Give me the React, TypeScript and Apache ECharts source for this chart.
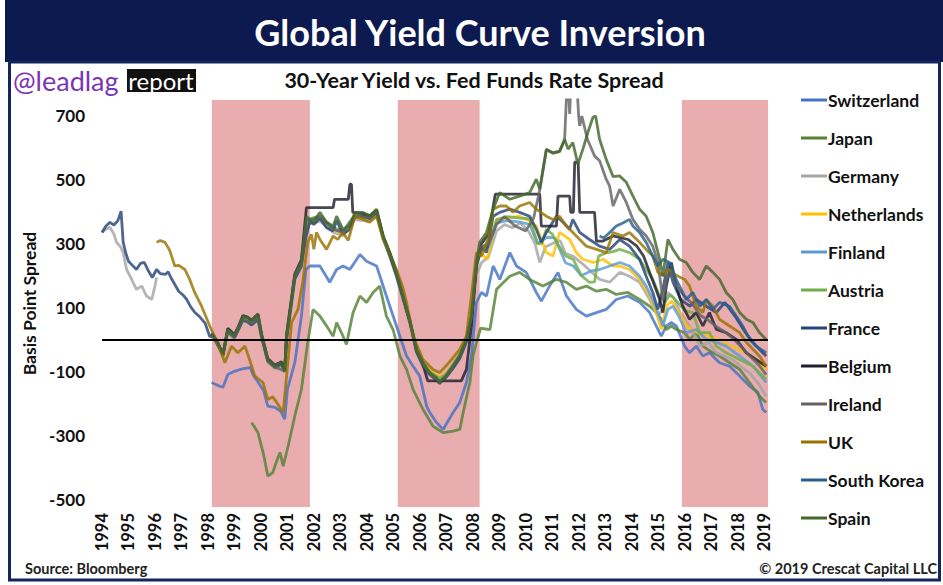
import React, { useEffect, useRef } from "react";
import * as echarts from "echarts";

type Pt = [number, number | null];

const COUNTRIES = [
  "Switzerland", "Japan", "Germany", "Netherlands", "Finland", "Austria",
  "France", "Belgium", "Ireland", "UK", "South Korea", "Spain",
];

const COLORS = [
  "#4472C4", "#548235", "#A5A5A5", "#FFC000", "#5B9BD5", "#70AD47",
  "#264478", "#1F1F2E", "#636363", "#997300", "#255E91", "#43682B",
];

const Y_TICKS = [-500, -300, -100, 100, 300, 500, 700];
const RECESSION_BANDS: [number, number][] = [
  [1998.15, 2001.85],
  [2005.17, 2008.26],
  [2015.9, 2019.15],
];

const switzerland: Pt[] = [
  [1998.14, -135], [1998.4, -145], [1998.57, -150], [1998.75, -110], [1999.0, -100], [1999.3, -92],
  [1999.6, -88], [1999.7, -110], [1999.9, -135], [2000.1, -160], [2000.26, -209], [2000.53, -213],
  [2000.75, -225], [2000.9, -250], [2001.0, -157], [2001.28, -73], [2001.53, 73], [2001.7, 219],
  [2001.85, 230], [2002.23, 230], [2002.6, 179], [2002.86, 219], [2003.1, 230], [2003.36, 219],
  [2003.74, 266], [2003.99, 245], [2004.37, 230], [2004.74, 136], [2005.12, 42], [2005.5, -52],
  [2005.75, -84], [2006.0, -115], [2006.26, -209], [2006.38, -229], [2006.63, -260], [2006.88, -282],
  [2007.26, -229], [2007.51, -198], [2007.76, -135], [2007.95, -52], [2008.14, 116], [2008.33, 147],
  [2008.52, 136], [2008.77, 230], [2009.02, 188], [2009.4, 272], [2009.65, 230], [2010.02, 210],
  [2010.4, 147], [2010.59, 120], [2010.9, 167], [2011.22, 210], [2011.54, 136], [2011.91, 94],
  [2012.29, 73], [2012.67, 84], [2013.04, 94], [2013.42, 125], [2013.86, 136], [2014.3, 116],
  [2014.68, 84], [2014.93, 42], [2015.12, 10], [2015.31, 42], [2015.5, 53], [2015.69, 42],
  [2016.0, -21], [2016.19, -42], [2016.44, -21], [2016.69, -52], [2016.94, -42], [2017.32, -73],
  [2017.7, -84], [2018.08, -115], [2018.45, -146], [2018.77, -166], [2018.95, -219], [2019.08, -229],
];

const japan: Pt[] = [
  [1999.65, -260], [1999.89, -292], [2000.1, -360], [2000.26, -428], [2000.45, -417], [2000.6, -380],
  [2000.72, -354], [2000.84, -397], [2001.03, -334], [2001.28, -240], [2001.53, -157], [2001.77, -9],
  [2001.97, 94], [2002.23, 73], [2002.5, 40], [2002.73, 10], [2002.86, 53], [2003.05, 20],
  [2003.23, -16], [2003.48, 84], [2003.74, 136], [2003.99, 116], [2004.24, 147], [2004.49, 167],
  [2004.74, 73], [2004.99, 31], [2005.25, -52], [2005.5, -94], [2005.75, -157], [2006.12, -219],
  [2006.5, -272], [2006.88, -292], [2007.26, -287], [2007.51, -282], [2007.64, -229], [2007.89, -135],
  [2008.01, -52], [2008.14, -9], [2008.3, 35], [2008.65, 31], [2008.9, 157], [2009.4, 198],
  [2009.77, 210], [2010.15, 188], [2010.65, 167], [2011.15, 188], [2011.54, 179], [2011.91, 157],
  [2012.29, 167], [2012.67, 151], [2013.04, 157], [2013.42, 141], [2013.86, 147], [2014.3, 125],
  [2014.68, 104], [2014.93, 84], [2015.12, 63], [2015.31, 31], [2015.5, 42], [2015.69, 31],
  [2016.0, 21], [2016.19, 0], [2016.44, 21], [2016.69, -21], [2017.07, -42], [2017.32, -52],
  [2017.7, -73], [2018.08, -94], [2018.45, -135], [2018.83, -178], [2019.08, -198],
];

const germany: Pt[] = [
  [1994.0, 335], [1994.15, 345], [1994.3, 351], [1994.45, 330], [1994.55, 304], [1994.7, 290],
  [1994.8, 272], [1994.93, 219], [1995.12, 188], [1995.3, 157], [1995.5, 167], [1995.68, 136],
  [1995.88, 125], [1996.0, 167], [1996.06, 194], [1996.5, null],
  [1998.14, 10], [1998.35, -15], [1998.57, -55], [1998.75, 22], [1999.0, 2], [1999.32, 58],
  [1999.65, 48], [1999.89, 65], [2000.03, 2], [2000.26, -72], [2000.53, -92], [2000.78, -82],
  [2000.9, -105], [2000.97, -5], [2001.28, 185], [2001.53, 228], [2001.72, 360], [2002.23, 370],
  [2002.73, 335], [2003.1, 325], [2003.55, 375], [2004.11, 370], [2004.37, 390], [2004.62, 312],
  [2004.87, 258], [2005.12, 195], [2005.37, 122], [2005.62, 50], [2005.88, -42], [2006.12, -85],
  [2006.38, -112], [2006.75, -130], [2007.0, -118], [2007.26, -90], [2007.51, -58], [2007.76, -10],
  [2007.95, 55], [2008.14, 200], [2008.33, 240], [2008.6, 260], [2008.9, 340], [2009.2, 360],
  [2009.5, 350], [2009.8, 365], [2010.1, 340], [2010.35, 300], [2010.53, 241], [2010.75, 290],
  [2011.0, 300], [2011.3, 310], [2011.5, 270], [2011.8, 260], [2012.1, 240], [2012.5, 210],
  [2012.79, 188], [2013.17, 179], [2013.55, 210], [2013.92, 198], [2014.3, 179], [2014.68, 125],
  [2014.99, 73], [2015.18, 94], [2015.37, 147], [2015.6, 130], [2015.85, 80], [2016.2, 40],
  [2016.57, -21], [2016.9, -10], [2017.2, -42], [2017.8, -63], [2018.2, -90], [2018.45, -104],
  [2018.8, -140], [2019.08, -178],
];

const netherlands: Pt[] = [
  [1998.14, 14], [1998.35, -10], [1998.57, -50], [1998.75, 28], [1999.0, 6], [1999.32, 62],
  [1999.65, 50], [1999.89, 68], [2000.03, 6], [2000.26, -68], [2000.53, -88], [2000.78, -78],
  [2000.9, -100], [2000.97, 2], [2001.28, 192], [2001.53, 235], [2001.72, 368], [2002.23, 378],
  [2002.73, 342], [2003.1, 332], [2003.55, 382], [2004.11, 376], [2004.37, 396], [2004.62, 318],
  [2004.87, 264], [2005.12, 202], [2005.37, 130], [2005.62, 58], [2005.88, -32], [2006.12, -70],
  [2006.38, -98], [2006.63, -112], [2006.75, -118], [2007.0, -105], [2007.26, -78], [2007.51, -45],
  [2007.76, 5], [2007.95, 75], [2008.14, 238], [2008.33, 270], [2008.55, 250], [2008.9, 376],
  [2009.3, 380], [2009.77, 386], [2010.15, 370], [2010.4, 355], [2010.78, 272], [2011.03, 261],
  [2011.28, 335], [2011.66, 313], [2011.91, 272], [2012.16, 251], [2012.54, 241], [2012.92, 251],
  [2013.3, 230], [2013.55, 230], [2013.92, 219], [2014.3, 188], [2014.68, 136], [2014.93, 84],
  [2015.12, 31], [2015.31, 104], [2015.5, 120], [2015.75, 90], [2016.1, 40], [2016.5, 20],
  [2016.9, 10], [2017.32, 0], [2017.6, -15], [2018.0, -30], [2018.33, -42], [2018.7, -65],
  [2019.08, -94],
];

const finland: Pt[] = [
  [1998.14, 16], [1998.35, -8], [1998.57, -46], [1998.75, 32], [1999.0, 10], [1999.32, 66],
  [1999.65, 54], [1999.89, 72], [2000.03, 10], [2000.26, -64], [2000.53, -84], [2000.78, -74],
  [2000.9, -97], [2000.97, 8], [2001.28, 195], [2001.53, 238], [2001.72, 372], [2002.23, 382],
  [2002.73, 346], [2003.1, 336], [2003.55, 386], [2004.11, 380], [2004.37, 400], [2004.62, 320],
  [2004.87, 266], [2005.12, 204], [2005.37, 132], [2005.62, 60], [2005.88, -34], [2006.12, -76],
  [2006.38, -106], [2006.75, -128], [2007.0, -110], [2007.26, -80], [2007.51, -48], [2007.76, 2],
  [2007.95, 70], [2008.14, 236], [2008.33, 280], [2008.6, 290], [2008.9, 365], [2009.3, 372],
  [2009.77, 368], [2010.15, 360], [2010.45, 300], [2010.8, 320], [2011.1, 318], [2011.5, 240],
  [2011.8, 230], [2012.1, 200], [2012.5, 215], [2012.79, 219], [2013.17, 230], [2013.55, 241],
  [2013.92, 230], [2014.3, 198], [2014.55, 167], [2014.8, 125], [2014.99, 84], [2015.18, 42],
  [2015.37, 94], [2015.56, 104], [2015.8, 70], [2016.06, 21], [2016.44, 31], [2016.82, 0],
  [2017.2, -9], [2017.57, -21], [2018.08, -52], [2018.58, -84], [2019.08, -135],
];

const austria: Pt[] = [
  [1998.14, 17], [1998.35, -9], [1998.57, -47], [1998.75, 31], [1999.0, 11], [1999.32, 67],
  [1999.65, 55], [1999.89, 73], [2000.03, 11], [2000.26, -63], [2000.53, -83], [2000.78, -73],
  [2000.9, -96], [2000.97, 9], [2001.28, 196], [2001.53, 240], [2001.72, 376], [2002.23, 386],
  [2002.73, 350], [2003.1, 340], [2003.55, 390], [2004.11, 382], [2004.37, 402], [2004.62, 321],
  [2004.87, 268], [2005.12, 206], [2005.37, 134], [2005.62, 62], [2005.88, -30], [2006.12, -72],
  [2006.38, -102], [2006.75, -122], [2007.0, -108], [2007.26, -78], [2007.51, -46], [2007.76, 3],
  [2007.95, 72], [2008.14, 238], [2008.33, 285], [2008.6, 300], [2008.9, 375], [2009.3, 385],
  [2009.77, 380], [2010.15, 378], [2010.45, 300], [2010.6, 300], [2010.78, 345], [2011.0, 330],
  [2011.2, 300], [2011.5, 262], [2011.8, 250], [2012.1, 200], [2012.4, 179], [2012.6, 180],
  [2012.75, 261], [2013.0, 270], [2013.3, 275], [2013.55, 282], [2013.92, 272], [2014.3, 251],
  [2014.55, 219], [2014.8, 188], [2015.06, 136], [2015.25, 116], [2015.45, 140], [2015.7, 120],
  [2016.0, 90], [2016.31, 84], [2016.57, 21], [2016.94, 21], [2017.2, -21], [2017.57, -42],
  [2018.08, -63], [2018.58, -84], [2019.08, -125],
];

const france: Pt[] = [
  [1994.0, 335], [1994.15, 355], [1994.3, 367], [1994.45, 358], [1994.6, 372], [1994.72, 402],
  [1994.8, 304], [1994.9, 270], [1995.0, 245], [1995.15, 232], [1995.3, 219], [1995.45, 238],
  [1995.6, 241], [1995.75, 215], [1995.9, 194], [1996.06, 219], [1996.2, 206], [1996.4, 204],
  [1996.5, 212], [1996.6, 194], [1996.75, 172], [1996.9, 150], [1997.05, 140], [1997.2, 125],
  [1997.35, 102], [1997.5, 85], [1997.7, 70], [1997.9, 50], [1998.07, 8], [1998.2, 15],
  [1998.35, -15], [1998.57, -45], [1998.75, 25], [1999.0, 5], [1999.15, 30], [1999.32, 60],
  [1999.5, 55], [1999.65, 45], [1999.89, 62], [2000.03, 5], [2000.26, -68], [2000.53, -88],
  [2000.78, -78], [2000.9, -100], [2000.97, 0], [2001.28, 190], [2001.53, 230], [2001.7, 320],
  [2001.85, 370], [2002.0, 360], [2002.23, 380], [2002.48, 350], [2002.73, 340], [2002.86, 372],
  [2003.1, 330], [2003.36, 345], [2003.55, 385], [2003.86, 388], [2004.11, 378], [2004.37, 398],
  [2004.62, 318], [2004.87, 262], [2005.12, 200], [2005.37, 128], [2005.62, 55], [2005.88, -40],
  [2006.12, -82], [2006.38, -110], [2006.63, -128], [2006.75, -138], [2007.0, -118], [2007.26, -90],
  [2007.51, -60], [2007.76, -8], [2007.95, 60], [2008.14, 230], [2008.33, 290], [2008.52, 272],
  [2008.77, 386], [2009.02, 398], [2009.4, 408], [2009.77, 398], [2010.15, 386], [2010.4, 345],
  [2010.59, 304], [2010.78, 335], [2011.16, 386], [2011.41, 367], [2011.66, 345], [2011.78, 376],
  [2012.04, 335], [2012.41, 313], [2012.79, 292], [2013.17, 282], [2013.55, 313], [2013.92, 292],
  [2014.3, 251], [2014.55, 198], [2014.8, 147], [2014.99, 94], [2015.18, 157], [2015.37, 241],
  [2015.56, 179], [2015.85, 125], [2016.2, 104], [2016.44, 125], [2016.82, 104], [2017.2, 84],
  [2017.52, 116], [2017.9, 73], [2018.3, 21], [2018.7, -20], [2018.95, -42], [2019.08, -52],
];

const belgium: Pt[] = [
  [1998.14, 20], [1998.35, -5], [1998.57, -48], [1998.75, 35], [1999.0, 15], [1999.15, 40],
  [1999.32, 75], [1999.5, 70], [1999.65, 60], [1999.89, 80], [2000.03, 15], [2000.26, -60],
  [2000.53, -80], [2000.78, -70], [2000.9, -95], [2000.97, 15], [2001.28, 205], [2001.53, 250],
  [2001.72, 413], [2002.73, 413], [2002.78, 439], [2003.3, 439], [2003.36, 486], [2003.42, 486],
  [2003.47, 398], [2003.86, 395], [2004.11, 388], [2004.37, 405], [2004.62, 322], [2004.87, 270],
  [2005.12, 208], [2005.37, 134], [2005.62, 60], [2005.88, -35], [2006.12, -78], [2006.3, -130],
  [2007.57, -130], [2007.76, -94], [2007.95, 40], [2008.14, 235], [2008.33, 300], [2008.6, 330],
  [2008.85, 455], [2010.53, 455], [2010.59, 355], [2011.16, 355], [2011.22, 449], [2011.66, 449],
  [2011.7, 398], [2011.8, 398], [2011.85, 555], [2011.98, 555], [2012.04, 398], [2012.6, 398],
  [2012.67, 308], [2012.92, 308], [2013.3, 324], [2013.86, 313], [2014.2, 292], [2014.45, 261],
  [2014.68, 210], [2015.06, 125], [2015.18, 84], [2015.31, 167], [2015.5, 241], [2015.69, 167],
  [2015.93, 104], [2016.19, 63], [2016.44, 84], [2016.69, 42], [2016.94, 84], [2017.2, 31],
  [2017.57, 21], [2017.95, 0], [2018.33, -42], [2018.7, -63], [2019.08, -84],
];

const ireland: Pt[] = [
  [1998.14, 12], [1998.35, -12], [1998.57, -52], [1998.75, 28], [1999.0, 8], [1999.32, 65],
  [1999.65, 52], [1999.89, 70], [2000.03, 8], [2000.26, -66], [2000.53, -86], [2000.9, -100],
  [2000.97, 5], [2001.28, 195], [2001.53, 238], [2001.72, 370], [2002.23, 385], [2002.73, 345],
  [2003.1, 335], [2003.55, 388], [2004.11, 380], [2004.37, 400], [2004.62, 320], [2004.87, 268],
  [2005.12, 205], [2005.37, 130], [2005.62, 58], [2005.88, -36], [2006.12, -78], [2006.38, -108],
  [2006.75, -132], [2007.0, -112], [2007.26, -82], [2007.51, -50], [2007.76, -2], [2007.95, 68],
  [2008.14, 235], [2008.33, 290], [2008.6, 300], [2008.9, 360], [2009.2, 385], [2009.6, 355],
  [2010.0, 340], [2010.3, 380], [2010.53, 468], [2010.78, 594], [2011.03, 583], [2011.28, 588],
  [2011.47, 625], [2011.56, 800], [2011.62, 790], [2011.66, 706], [2011.7, 790], [2011.9, 820],
  [2011.96, 760], [2012.0, 700], [2012.04, 669], [2012.12, 700], [2012.33, 627], [2012.6, 575],
  [2012.79, 560], [2013.04, 502], [2013.17, 480], [2013.3, 418], [2013.55, 470], [2013.8, 429],
  [2014.05, 376], [2014.3, 345], [2014.55, 324], [2014.8, 292], [2014.99, 241], [2015.18, 125],
  [2015.31, 188], [2015.5, 219], [2015.69, 167], [2015.95, 140], [2016.3, 110], [2016.6, 75],
  [2016.9, 60], [2017.2, 40], [2017.5, 25], [2017.8, 5], [2018.1, -20], [2018.5, -55],
  [2018.8, -80], [2019.08, -110],
];

const uk: Pt[] = [
  [1996.06, 304], [1996.2, 310], [1996.38, 304], [1996.55, 280], [1996.75, 230], [1996.9, 232],
  [1997.13, 219], [1997.3, 190], [1997.5, 147], [1997.76, 104], [1998.07, 42], [1998.3, 0],
  [1998.5, -40], [1998.64, -73], [1998.89, -21], [1999.13, -42], [1999.4, -21], [1999.6, -70],
  [1999.77, -115], [2000.08, -135], [2000.26, -188], [2000.45, -180], [2000.6, -198], [2000.84, -229],
  [2000.97, -115], [2001.16, 53], [2001.4, 94], [2001.58, 179], [2001.77, 304], [2001.91, 329],
  [2002.0, 282], [2002.1, 335], [2002.23, 313], [2002.48, 282], [2002.73, 324], [2002.9, 313],
  [2003.1, 335], [2003.3, 310], [2003.55, 386], [2003.86, 376], [2004.11, 367], [2004.37, 386],
  [2004.62, 313], [2004.87, 270], [2005.12, 219], [2005.37, 160], [2005.5, 116], [2005.75, 10],
  [2006.12, -63], [2006.5, -94], [2006.75, -104], [2007.1, -73], [2007.51, -31], [2007.76, 10],
  [2007.95, 136], [2008.14, 272], [2008.33, 261], [2008.6, 320], [2008.77, 408], [2009.02, 418],
  [2009.27, 418], [2009.52, 398], [2009.77, 418], [2010.15, 429], [2010.4, 408], [2010.78, 386],
  [2011.03, 376], [2011.28, 386], [2011.54, 355], [2011.91, 324], [2012.29, 292], [2012.67, 282],
  [2013.04, 272], [2013.3, 335], [2013.67, 324], [2013.92, 335], [2014.3, 304], [2014.55, 282],
  [2014.8, 261], [2014.99, 210], [2015.2, 200], [2015.4, 220], [2015.7, 200], [2016.0, 188],
  [2016.19, 167], [2016.44, 104], [2016.69, 84], [2016.82, 125], [2017.07, 104], [2017.32, 63],
  [2017.7, 42], [2018.08, 21], [2018.33, -9], [2018.58, -31], [2018.83, -52], [2019.08, -84],
];

const southKorea: Pt[] = [
  [2012.79, 324], [2012.95, 318], [2013.17, 335], [2013.42, 355], [2013.67, 365], [2013.92, 376],
  [2014.05, 355], [2014.3, 335], [2014.55, 304], [2014.8, 261], [2014.99, 230], [2015.18, 251],
  [2015.43, 241], [2015.62, 198], [2015.81, 167], [2016.06, 125], [2016.31, 147], [2016.57, 104],
  [2016.82, 125], [2017.07, 94], [2017.32, 116], [2017.7, 104], [2017.95, 73], [2018.2, 42],
  [2018.45, 0], [2018.7, -21], [2019.08, -42],
];

const spain: Pt[] = [
  [1998.14, 18], [1998.35, -8], [1998.57, -45], [1998.75, 30], [1999.0, 12], [1999.15, 38],
  [1999.32, 72], [1999.5, 68], [1999.65, 58], [1999.89, 78], [2000.03, 12], [2000.26, -62],
  [2000.53, -82], [2000.78, -72], [2000.9, -97], [2000.97, 12], [2001.28, 200], [2001.53, 245],
  [2001.72, 386], [2001.97, 367], [2002.23, 398], [2002.48, 367], [2002.73, 355], [2002.86, 386],
  [2003.1, 345], [2003.36, 355], [2003.55, 398], [2003.86, 398], [2004.11, 386], [2004.37, 408],
  [2004.62, 324], [2004.87, 272], [2005.12, 210], [2005.37, 136], [2005.62, 63], [2005.88, -31],
  [2006.12, -73], [2006.38, -104], [2006.63, -120], [2006.75, -135], [2007.0, -115], [2007.26, -84],
  [2007.51, -52], [2007.76, 0], [2007.95, 73], [2008.14, 241], [2008.26, 304], [2008.52, 335],
  [2008.77, 408], [2009.02, 460], [2009.4, 439], [2009.77, 449], [2010.15, 460], [2010.4, 502],
  [2010.53, 470], [2010.78, 596], [2011.03, 585], [2011.28, 590], [2011.47, 627], [2011.6, 596],
  [2011.78, 617], [2011.97, 549], [2012.16, 596], [2012.35, 649], [2012.54, 696], [2012.64, 700],
  [2012.79, 627], [2013.04, 564], [2013.3, 510], [2013.55, 512], [2013.8, 492], [2014.05, 449],
  [2014.3, 408], [2014.55, 386], [2014.8, 335], [2015.06, 251], [2015.18, 198], [2015.37, 313],
  [2015.56, 282], [2015.81, 251], [2016.06, 241], [2016.31, 210], [2016.57, 188], [2016.82, 230],
  [2017.07, 210], [2017.32, 188], [2017.57, 147], [2017.82, 125], [2018.08, 84], [2018.33, 63],
  [2018.58, 53], [2018.83, 21], [2019.08, 0],
];

const SERIES_DATA: Pt[][] = [
  switzerland, japan, germany, netherlands, finland, austria,
  france, belgium, ireland, uk, southKorea, spain,
];

const FONT = "Lato, 'Open Sans', sans-serif";

export default function App() {
  const ref = useRef<HTMLDivElement>(null);

  useEffect(() => {
    if (!ref.current) return;
    const chart = echarts.init(ref.current, undefined, { renderer: "svg" });

    const series: any[] = COUNTRIES.map((name, i) => ({
      name,
      type: "line",
      data: SERIES_DATA[i],
      showSymbol: false,
      symbol: "none",
      connectNulls: false,
      color: COLORS[i],
      lineStyle: { color: COLORS[i], width: 2.8, opacity: 0.82 },
      emphasis: { disabled: true },
      z: 3,
    }));

    series[0].markArea = {
      silent: true,
      itemStyle: { color: "#E9ACAF", opacity: 1 },
      data: RECESSION_BANDS.map(([a, b]) => [{ xAxis: a }, { xAxis: b }]),
    };
    series[0].markLine = {
      silent: true,
      symbol: "none",
      label: { show: false },
      lineStyle: { color: "#000000", width: 2, type: "solid", opacity: 1 },
      data: [{ yAxis: 0 }],
    };

    const option: any = {
      animation: false,
      backgroundColor: "#ffffff",
      textStyle: { fontFamily: FONT },
      grid: { left: 102, right: 175, top: 100, bottom: 78, containLabel: false },
      legend: {
        data: COUNTRIES,
        orient: "vertical",
        left: 796,
        top: 85,
        icon: "rect",
        itemWidth: 26,
        itemHeight: 3,
        itemGap: 18,
        textStyle: { fontFamily: FONT, fontSize: 17.5, fontWeight: "bold", color: "#111", lineHeight: 20, padding: [0, 0, 0, -4] },
        selectedMode: false,
      },
      xAxis: {
        type: "value",
        min: 1994,
        max: 2019.15,
        interval: 1,
        axisLine: { show: false },
        axisTick: { show: false },
        splitLine: { show: false },
        axisLabel: {
          rotate: 90,
          margin: 6,
          fontFamily: FONT,
          fontSize: 16.5,
          fontWeight: "bold",
          color: "#111",
          formatter: (v: number) => (Number.isInteger(v) ? String(v) : ""),
        },
      },
      yAxis: {
        type: "value",
        min: -525,
        max: 750,
        interval: 25,
        name: "Basis Point Spread",
        nameLocation: "middle",
        nameRotate: 90,
        nameGap: 58,
        nameTextStyle: { fontFamily: FONT, fontSize: 17.5, fontWeight: "bold", color: "#111" },
        axisLine: { show: false },
        axisTick: { show: false },
        splitLine: { show: false },
        axisLabel: {
          margin: 17,
          fontFamily: FONT,
          fontSize: 17,
          fontWeight: "bold",
          color: "#111",
          formatter: (v: number) => (Y_TICKS.includes(v) ? String(v) : ""),
        },
      },
      graphic: [
        { type: "rect", z: -10, shape: { x: 5, y: 0, width: 938, height: 62 }, style: { fill: "#0D1A50" } },
        { type: "rect", z: -10, shape: { x: 9.5, y: 62, width: 930, height: 518 }, style: { fill: "none", stroke: "#14245F", lineWidth: 3 } },
        {
          type: "text", x: 480, y: 32,
          style: { text: "Global Yield Curve Inversion", fill: "#ffffff", font: `bold 36px ${FONT}`, textAlign: "center", textVerticalAlign: "middle" },
        },
        {
          type: "text", x: 474, y: 80,
          style: { text: "30-Year Yield vs. Fed Funds Rate Spread", fill: "#111", font: `bold 21.5px ${FONT}`, textAlign: "center", textVerticalAlign: "middle" },
        },
        {
          type: "text", x: 13, y: 80,
          style: { text: "@leadlag", fill: "#7A35B5", font: `normal 27px ${FONT}`, textAlign: "left", textVerticalAlign: "middle" },
        },
        { type: "rect", shape: { x: 127, y: 69, width: 69, height: 23 }, style: { fill: "#111" } },
        {
          type: "text", x: 161, y: 80,
          style: { text: "report", fill: "#ffffff", font: `normal 24px ${FONT}`, textAlign: "center", textVerticalAlign: "middle" },
        },
        {
          type: "text", x: 25, y: 568,
          style: { text: "Source: Bloomberg", fill: "#222", font: `bold 14.5px ${FONT}`, textAlign: "left", textVerticalAlign: "middle" },
        },
        {
          type: "text", x: 937, y: 568,
          style: { text: "© 2019 Crescat Capital LLC", fill: "#222", font: `bold 14.5px ${FONT}`, textAlign: "right", textVerticalAlign: "middle" },
        },
      ],
      series,
    };

    chart.setOption(option);
    return () => chart.dispose();
  }, []);

  return (
    <div
      ref={ref}
      style={{ position: "absolute", left: 0, top: 0, width: 943, height: 585, background: "#fff" }}
    />
  );
}
